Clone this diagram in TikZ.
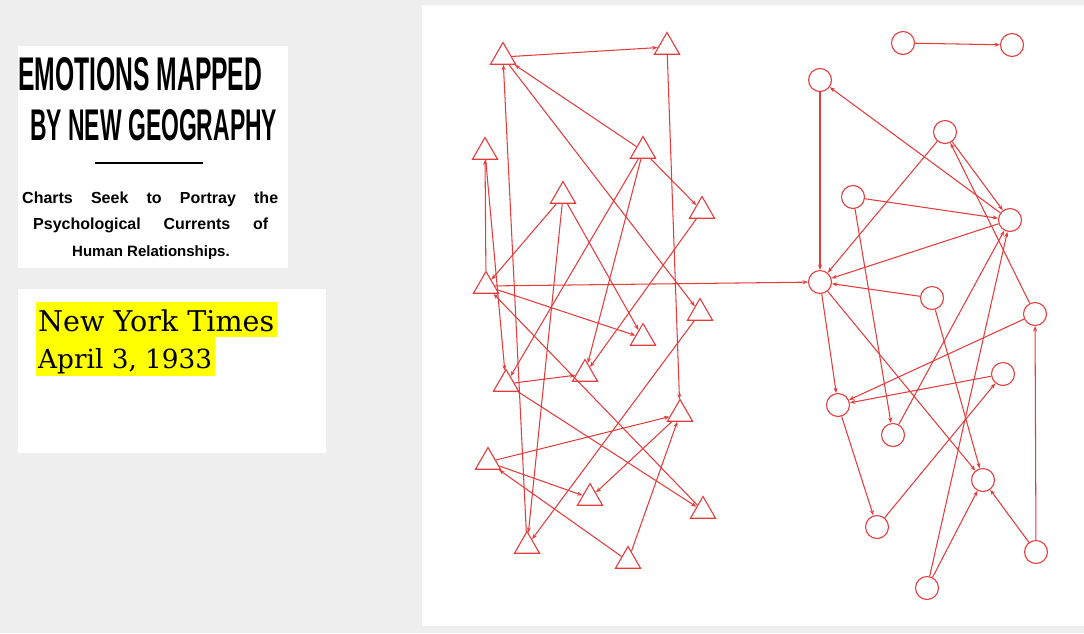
\documentclass[tikz,border=0pt]{standalone}
\usepackage{fontspec}
\usepackage{graphicx}
\usetikzlibrary{shapes.geometric,arrows.meta}
\setmainfont{Liberation Serif}
\newfontfamily\headfont{Liberation Sans}
\newfontfamily\slabfont{DejaVu Serif}
\definecolor{pen}{RGB}{228,60,60}
\definecolor{bggray}{RGB}{238,238,238}
\definecolor{hlyellow}{RGB}{255,255,0}
\begin{document}
\begin{tikzpicture}[x=1pt,y=-1pt,
  tri/.style={draw=pen, line width=1.1pt, regular polygon, regular polygon sides=3, minimum size=29pt, inner sep=0pt},
  circ/.style={draw=pen, line width=1.1pt, circle, minimum size=23pt, inner sep=0pt},
  link/.style={draw=pen, line width=1.05pt, -{Stealth[length=5.5pt,width=4pt]}},
  panel/.style={fill=white, draw=none}
]
\useasboundingbox (0,0) rectangle (1084,633);
\fill[bggray] (0,0) rectangle (1084,633);
\fill[white] (422,5) rectangle (1084,626);
\fill[white] (18,46) rectangle (288,268);
\fill[white] (18,289) rectangle (326,453);

% headline
\node[anchor=west, inner sep=0pt] (h1) at (18,74) {\resizebox{244pt}{33pt}{\headfont\bfseries EMOTIONS MAPPED}};
\node[anchor=west, inner sep=0pt] (h2) at (30,125) {\resizebox{247pt}{31pt}{\headfont\bfseries BY NEW GEOGRAPHY}};
\draw[line width=1.6pt] (95,163) -- (203,163);
\node[anchor=base west, inner sep=0pt] (s1) at (22,203) {\makebox[256pt][s]{\headfont\bfseries\fontsize{16}{16}\selectfont Charts Seek to Portray the}};
\node[anchor=base west, inner sep=0pt] (s2) at (33,229) {\makebox[235pt][s]{\headfont\bfseries\fontsize{16}{16}\selectfont Psychological Currents of}};
\node[anchor=base, inner sep=0pt] (s3) at (151,256) {\headfont\bfseries\fontsize{15}{15}\selectfont Human Relationships.};

% yellow label
\fill[hlyellow] (36,302) rectangle (277,337);
\fill[hlyellow] (36,337) rectangle (215,376);
\node[anchor=base west, inner sep=0pt] (l1) at (38,331) {\resizebox{236pt}{!}{\slabfont New York Times}};
\node[anchor=base west, inner sep=0pt] (l2) at (38,368) {\resizebox{174pt}{!}{\slabfont April 3, 1933}};

% triangles
\node[tri] (T1) at (503,57) {};
\node[tri] (T2) at (667,47) {};
\node[tri] (T3) at (485,152) {};
\node[tri] (T4) at (643,151) {};
\node[tri] (T5) at (563,196) {};
\node[tri] (T6) at (702,211) {};
\node[tri] (T7) at (486,286) {};
\node[tri] (T8) at (700,313) {};
\node[tri] (T9) at (643,338) {};
\node[tri] (T10) at (506,384) {};
\node[tri] (T11) at (585,374) {};
\node[tri] (T12) at (680,414) {};
\node[tri] (T13) at (488,462) {};
\node[tri] (T14) at (590,498) {};
\node[tri] (T15) at (703,511) {};
\node[tri] (T16) at (527,546) {};
\node[tri] (T17) at (628,561) {};

% circles
\node[circ] (C1) at (903,43) {};
\node[circ] (C2) at (1012,45) {};
\node[circ] (C3) at (820,80) {};
\node[circ] (C4) at (945,132) {};
\node[circ] (C5) at (853,197) {};
\node[circ] (C6) at (1010,220) {};
\node[circ] (C7) at (820,282) {};
\node[circ] (C8) at (932,298) {};
\node[circ] (C9) at (1035,314) {};
\node[circ] (C10) at (1003,374) {};
\node[circ] (C11) at (838,405) {};
\node[circ] (C12) at (893,435) {};
\node[circ] (C13) at (983,480) {};
\node[circ] (C14) at (877,527) {};
\node[circ] (C15) at (1036,552) {};
\node[circ] (C16) at (927,588) {};

% left graph edges
\draw[link] (T1) -- (T2);
\draw[link] (T2) -- (T12);
\draw[link] (T16) -- (T1);
\draw[link] (T4) -- (T1);
\draw[link] (T1) -- (T8);
\draw[link] (T7) -- (T3);
\draw[link] (T3) -- (T10);
\draw[link] (T5) -- (T7);
\draw[link] (T5) -- (T16);
\draw[link] (T5) -- (T9);
\draw[link] (T4) -- (T10);
\draw[link] (T4) -- (T11);
\draw[link] (T4) -- (T6);
\draw[link] (T6) -- (T11);
\draw[link] (T7) -- (C7);
\draw[link] (T7) -- (T9);
\draw[link] (T15) -- (T7);
\draw[link] (T10) -- (T15);
\draw[link] (T10) -- (T11);
\draw[link] (T8) -- (T16);
\draw[link] (T13) -- (T12);
\draw[link] (T12) -- (T14);
\draw[link] (T17) -- (T12);
\draw[link] (T13) -- (T14);
\draw[link] (T17) -- (T13);

% right graph edges
\draw[link] (C1) -- (C2);
\draw[link] (C3) -- (C7);
\draw[link] (C7) -- (C11);
\draw[link] (C6) -- (C3);
\draw[link] (C4) -- (C7);
\draw[link] (C4) -- (C6);
\draw[link] (C9) -- (C4);
\draw[link] (C5) -- (C6);
\draw[link] (C6) -- (C7);
\draw[link] (C5) -- (C12);
\draw[link] (C8) -- (C7);
\draw[link] (C12) -- (C6);
\draw[link] (C16) -- (C6);
\draw[link] (C16) -- (C13);
\draw[link] (C8) -- (C13);
\draw[link] (C9) -- (C11);
\draw[link] (C15) -- (C9);
\draw[link] (C10) -- (C11);
\draw[link] (C14) -- (C10);
\draw[link] (C11) -- (C14);
\draw[link] (C7) -- (C13);
\draw[link] (C15) -- (C13);
\end{tikzpicture}
\end{document}
